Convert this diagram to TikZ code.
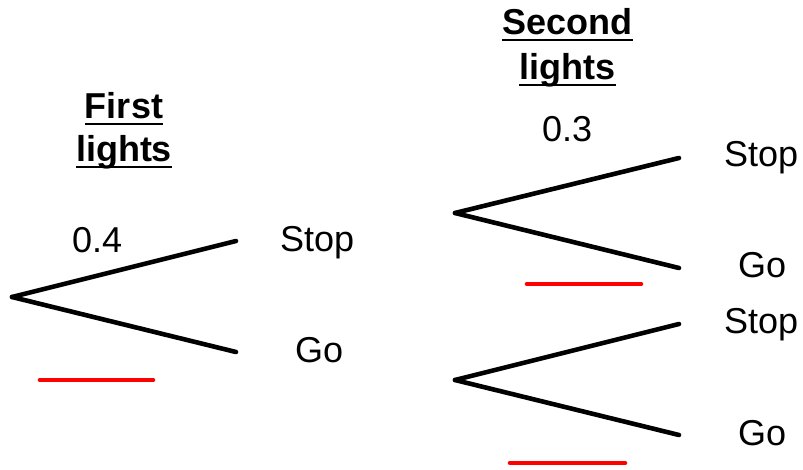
\documentclass[tikz,border=0pt]{standalone}
\usepackage{fontspec}
\setmainfont{Liberation Sans}
\begin{document}
\begin{tikzpicture}[x=1pt,y=-1pt,
  lbl/.style={inner sep=0pt,anchor=base west,font=\fontsize{36}{43}\selectfont},
  ttl/.style={inner sep=0pt,anchor=base,font=\fontsize{36}{43}\selectfont\bfseries},
  branch/.style={line width=4.6pt,line cap=round,black},
  blank/.style={line width=4.6pt,line cap=round,red},
  uline/.style={line width=2.8pt}]
\useasboundingbox (0,0) rectangle (803,470);
% coordinates
\coordinate (r1) at (12,297);
\coordinate (s1) at (236,241);
\coordinate (g1) at (236,352);
\coordinate (r2) at (455,213);
\coordinate (s2) at (679,158);
\coordinate (g2) at (679,268);
\coordinate (r3) at (455,380);
\coordinate (s3) at (679,324);
\coordinate (g3) at (679,435);
\coordinate (b1a) at (40,380);   \coordinate (b1b) at (153,380);
\coordinate (b2a) at (527,284);  \coordinate (b2b) at (641,284);
\coordinate (b3a) at (510,463);  \coordinate (b3b) at (625,463);
% branches
\draw[branch] (r1) -- (s1);
\draw[branch] (r1) -- (g1);
\draw[branch] (r2) -- (s2);
\draw[branch] (r2) -- (g2);
\draw[branch] (r3) -- (s3);
\draw[branch] (r3) -- (g3);
% blanks
\draw[blank] (b1a) -- (b1b);
\draw[blank] (b2a) -- (b2b);
\draw[blank] (b3a) -- (b3b);
% labels
\node[lbl] (p1) at (72,253) {0.4};
\node[lbl] (st1) at (280,252) {Stop};
\node[lbl] (go1) at (295,362) {Go};
\node[lbl] (p2) at (542,142) {0.3};
\node[lbl] (st2) at (724,167) {Stop};
\node[lbl] (go2) at (738,278) {Go};
\node[lbl] (st3) at (724,333) {Stop};
\node[lbl] (go3) at (738,445) {Go};
% titles
\node[ttl] (t1a) at (124,119) {First};
\node[ttl] (t1b) at (124,162) {lights};
\node[ttl] (t2a) at (567.5,35) {Second};
\node[ttl] (t2b) at (567.5,80) {lights};
\foreach \n in {t1a,t1b,t2a,t2b}{
  \draw[uline] ([yshift=-5pt]\n.base west) -- ([yshift=-5pt]\n.base east);
}
\end{tikzpicture}
\end{document}
